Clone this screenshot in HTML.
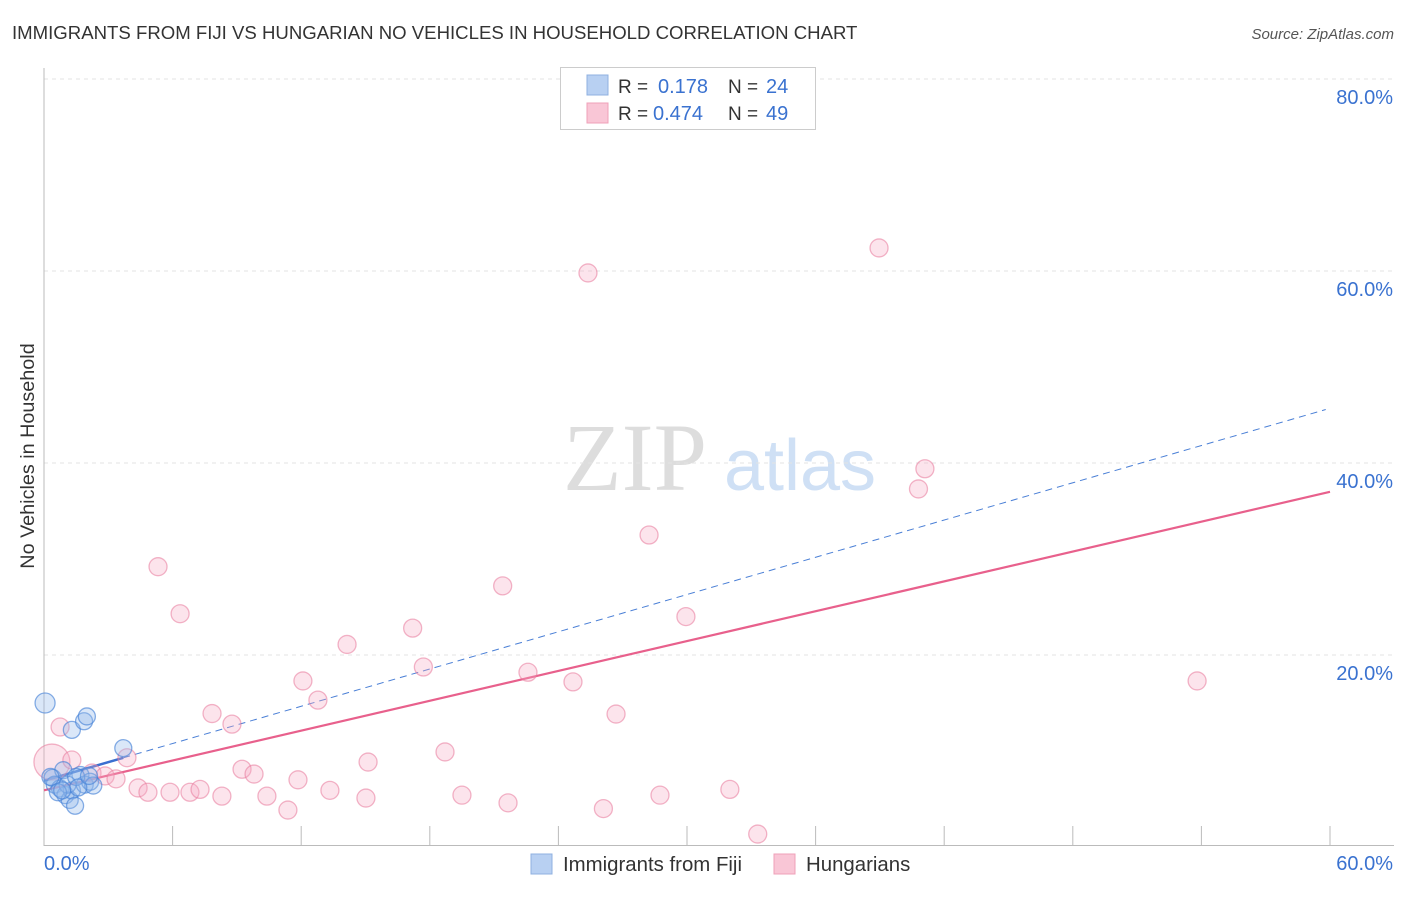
<!DOCTYPE html>
<html><head><meta charset="utf-8"><style>
body{margin:0;background:#fff;font-family:"Liberation Sans",sans-serif;}
</style></head><body>
<svg id="chart" width="1406" height="892" xmlns="http://www.w3.org/2000/svg" font-family="Liberation Sans, sans-serif">
<text x="12" y="39" font-size="18.6" fill="#333">IMMIGRANTS FROM FIJI VS HUNGARIAN NO VEHICLES IN HOUSEHOLD CORRELATION CHART</text>
<text x="1394" y="39" font-size="15" fill="#555" text-anchor="end" font-style="italic">Source: ZipAtlas.com</text>
<text transform="translate(34,456) rotate(-90)" font-size="19.8" fill="#333" text-anchor="middle">No Vehicles in Household</text>
<g>
<text x="635" y="490" font-size="96" fill="#ddd" font-family="Liberation Serif, serif" text-anchor="middle">ZIP</text>
<text x="800" y="490" font-size="72" fill="#cfe0f5" text-anchor="middle">atlas</text>
</g>
<g id="grid"></g><g id="axes"></g><g id="lines"></g><g id="pts"></g>
<g>
<rect x="560.5" y="67.5" width="255" height="62" fill="#fff" stroke="#ccc"/>
<rect x="587" y="75" width="21" height="20" fill="#b8d0f2" stroke="#8fb0e0"/>
<rect x="587" y="103" width="21" height="20" fill="#f9c6d6" stroke="#efa0b8"/>
<text x="618" y="93" font-size="19" fill="#333">R = </text><text x="658" y="93" font-size="20" fill="#3a72d0">0.178</text>
<text x="728" y="93" font-size="19" fill="#333">N = </text><text x="766" y="93" font-size="20" fill="#3a72d0">24</text>
<text x="618" y="120" font-size="19" fill="#333">R = </text><text x="653" y="120" font-size="20" fill="#3a72d0">0.474</text>
<text x="728" y="120" font-size="19" fill="#333">N = </text><text x="766" y="120" font-size="20" fill="#3a72d0">49</text>
</g>
<g>
<rect x="531" y="854" width="21" height="20" fill="#b8d0f2" stroke="#8fb0e0"/>
<text x="563" y="871" font-size="20.4" fill="#333">Immigrants from Fiji</text>
<rect x="774" y="854" width="21" height="20" fill="#f9c6d6" stroke="#efa0b8"/>
<text x="806" y="871" font-size="20.4" fill="#333">Hungarians</text>
</g>
</svg>
<script>
const yTicks=[20,40,60,80];
const xTickLabels=["0.0%","60.0%"];
const fijiX=[0.05,1.3,1.87,2.0,3.7,0.4,0.5,0.75,1.0,1.2,1.3,1.45,1.7,1.9,2.15,0.9,1.1,0.65,1.5,2.3,0.3,1.6,2.1,0.85];
const fijiY=[15.0,12.2,13.1,13.6,10.3,7.2,6.5,6.1,5.4,4.9,5.9,4.3,7.5,6.5,6.8,8.0,6.5,5.7,7.3,6.4,7.3,6.2,7.4,5.9];
const hunX=[0.37,0.75,1.3,2.24,2.85,3.36,3.87,4.39,4.85,5.32,5.88,6.35,6.81,7.28,7.84,8.3,8.77,9.24,9.8,10.4,11.38,11.85,12.08,12.78,13.34,14.14,15.02,15.12,17.2,17.7,18.71,19.5,21.4,21.65,22.58,24.68,25.38,26.1,26.69,28.23,28.74,29.95,32.0,33.3,38.96,40.8,41.1,53.8];
const hunY=[8.85,12.5,9.06,7.7,7.4,7.1,9.3,6.15,5.7,29.2,5.7,24.3,5.7,6.0,13.9,5.3,12.8,8.1,7.6,5.3,3.85,7.0,17.3,15.3,5.9,21.1,5.1,8.85,22.8,18.75,9.9,5.4,27.2,4.6,18.2,17.2,59.8,4.0,13.85,32.5,5.4,24.0,6.0,1.35,62.4,37.3,39.4,17.3];
const fijiTrend=[6.9,45.7];
const hunTrend=[5.9,37.0];
const NS="http://www.w3.org/2000/svg";
const sx=v=>44+v/60*1286;
const sy=v=>847-v/20*192;
function mk(parent,tag,attrs){const e=document.createElementNS(NS,tag);for(const k in attrs)e.setAttribute(k,attrs[k]);document.getElementById(parent).appendChild(e);return e;}
yTicks.forEach(t=>{
 const l=mk('grid','line',{x1:44,x2:1394,y1:sy(t),y2:sy(t),stroke:'#e3e3e3','stroke-dasharray':'4,4'});
 
 
 const tx=mk('grid','text',{x:1393,y:sy(t)+25,'font-size':20,fill:'#3a72d0','text-anchor':'end'});
 tx.textContent=t.toFixed(1)+'%';
 
 
});
const ax=mk('axes','line',{x1:44,x2:44,y1:68,y2:846,stroke:'#bbb'});


const bx=mk('axes','line',{x1:44,x2:1394,y1:845.5,y2:845.5,stroke:'#bbb'});


for(let i=1;i<=10;i++){const x=sx(i*6);const t=mk('axes','line',{x1:x,x2:x,y1:826,y2:846,stroke:'#bbb'});
 
 }
const xl0=mk('axes','text',{x:44,y:870,'font-size':20,fill:'#3a72d0'});xl0.textContent=xTickLabels[0];


const xl1=mk('axes','text',{x:1393,y:870,'font-size':20,fill:'#3a72d0','text-anchor':'end'});xl1.textContent=xTickLabels[1];


hunX.forEach((x,i)=>{const c=mk('pts','circle',{cx:sx(x),cy:sy(hunY[i]),r:i===0?18:9,fill:'rgba(246,170,195,0.32)',stroke:'rgba(232,120,155,0.55)','stroke-width':1.3});
 
 });
fijiX.forEach((x,i)=>{const c=mk('pts','circle',{cx:sx(x),cy:sy(fijiY[i]),r:i===0?10:8.5,fill:'rgba(150,185,235,0.35)',stroke:'rgba(70,130,215,0.65)','stroke-width':1.3});
 
 });
const fy=x=>fijiTrend[0]+(fijiTrend[1]-fijiTrend[0])*x/60;
const d1=mk('lines','line',{x1:sx(3.7),y1:sy(fy(3.7)),x2:sx(59.8),y2:sy(fy(59.8)),stroke:'#4a7fd6','stroke-width':1,'stroke-dasharray':'7,5'});


const hl=mk('lines','line',{x1:sx(0),y1:sy(hunTrend[0]),x2:sx(60),y2:sy(hunTrend[1]),stroke:'#e8608c','stroke-width':2.2});


const fl=mk('lines','line',{x1:sx(0),y1:sy(fy(0)),x2:sx(3.7),y2:sy(fy(3.7)),stroke:'#3a6fd0','stroke-width':2.5});


</script>
</body></html>
